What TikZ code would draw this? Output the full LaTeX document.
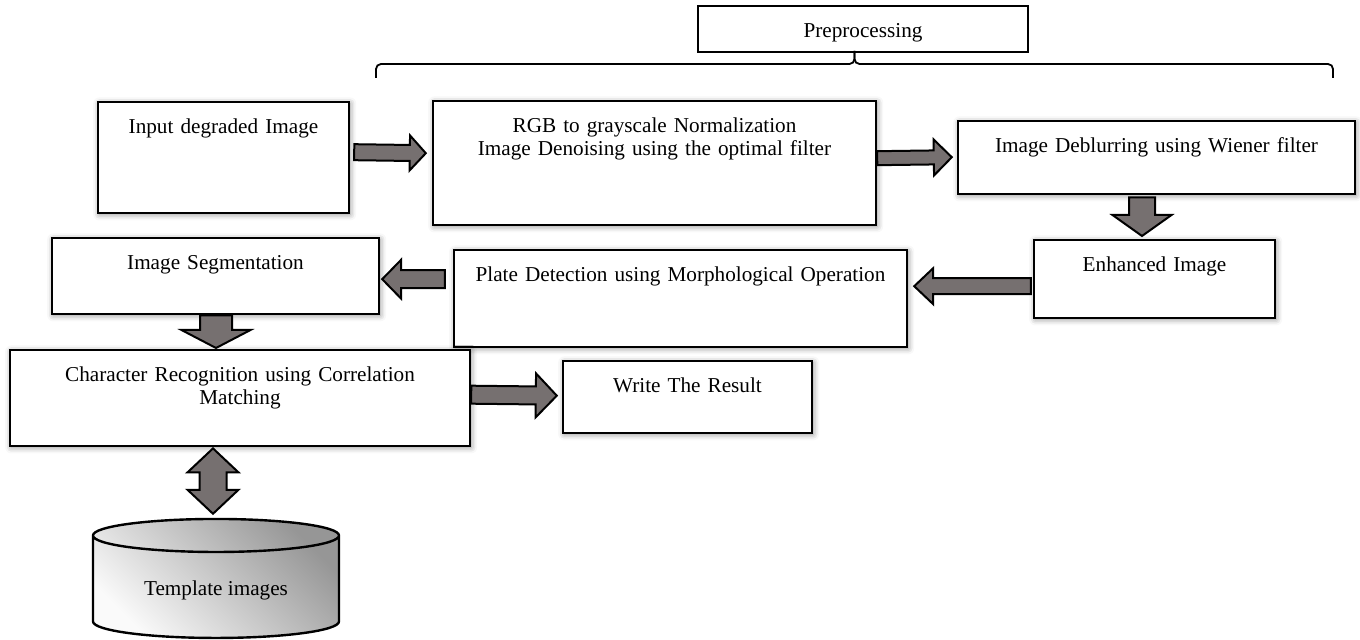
\documentclass[tikz,border=0pt]{standalone}
\usepackage{fontspec}
\setmainfont{Liberation Serif}
\usetikzlibrary{calc,shapes.geometric,shadows.blur}
\definecolor{arrowgray}{RGB}{118,112,112}
\definecolor{cyldark}{RGB}{150,150,150}
\definecolor{cyllight}{RGB}{250,250,250}

\tikzset{
  shaft width/.store in=\shaftw,
  head width/.store in=\headw,
  head length/.store in=\headl,
  box/.style={draw, line width=1.2pt, fill=white, anchor=north, align=center,
    inner xsep=0pt, inner ysep=4pt, text height=11.75pt,
    font=\fontsize{10.6pt}{11.5pt}\selectfont},
  shadowed/.style={blur shadow={shadow xshift=0.6pt, shadow yshift=-0.6pt,
    shadow blur radius=3pt, shadow opacity=45}},
  bracket/.style={line width=0.9pt, rounded corners=2.5pt},
  fatarrow/.style={draw=black, line width=1pt, fill=arrowgray,
    to path={
      ($(\tikztostart)!\shaftw!90:(\tikztotarget)$)
      -- ($($(\tikztotarget)!\headl!(\tikztostart)$)!\shaftw!-90:(\tikztostart)$)
      -- ($($(\tikztotarget)!\headl!(\tikztostart)$)!\headw!-90:(\tikztostart)$)
      -- (\tikztotarget)
      -- ($($(\tikztotarget)!\headl!(\tikztostart)$)!\headw!90:(\tikztostart)$)
      -- ($($(\tikztotarget)!\headl!(\tikztostart)$)!\shaftw!90:(\tikztostart)$)
      -- ($(\tikztostart)!\shaftw!-90:(\tikztotarget)$)
      -- cycle}},
  dblarrow/.style={draw=black, line width=1pt, fill=arrowgray,
    to path={
      (\tikztostart)
      -- ($($(\tikztostart)!\headl!(\tikztotarget)$)!\headw!90:(\tikztotarget)$)
      -- ($($(\tikztostart)!\headl!(\tikztotarget)$)!\shaftw!90:(\tikztotarget)$)
      -- ($($(\tikztotarget)!\headl!(\tikztostart)$)!\shaftw!-90:(\tikztostart)$)
      -- ($($(\tikztotarget)!\headl!(\tikztostart)$)!\headw!-90:(\tikztostart)$)
      -- (\tikztotarget)
      -- ($($(\tikztotarget)!\headl!(\tikztostart)$)!\headw!90:(\tikztostart)$)
      -- ($($(\tikztotarget)!\headl!(\tikztostart)$)!\shaftw!90:(\tikztostart)$)
      -- ($($(\tikztostart)!\headl!(\tikztotarget)$)!\shaftw!-90:(\tikztotarget)$)
      -- ($($(\tikztostart)!\headl!(\tikztotarget)$)!\headw!-90:(\tikztotarget)$)
      -- cycle}},
}

\begin{document}
\begin{tikzpicture}[x=0.5pt,y=-0.5pt]
  \useasboundingbox (0,0) rectangle (1360,640);

  \node[box, text width=165pt, text depth=3.25pt] (prep) at (863,5) {Preprocessing};
  \coordinate (brl) at (376,78);
  \coordinate (brr) at (1333,78);
  \coordinate (brmid) at (854.5,64);
  \coordinate (brtip) at (854.5,51);
  \draw[bracket] (brl) |- (brmid) -- (brtip);
  \draw[bracket] (brr) |- (brmid) -- (brtip);

  \node[box, shadowed, text width=125.5pt, text depth=35.75pt] (input) at (223.5,101) {Input degraded Image};
  \node[box, shadowed, text width=221.5pt, text depth=42.25pt] (gray) at (654.5,100)
    {RGB to grayscale Normalization\\Image Denoising using the optimal filter};
  \node[box, shadowed, text width=198.5pt, text depth=16.75pt] (deblur) at (1156.5,120) {Image Deblurring using Wiener filter};
  \node[box, shadowed, text width=120.5pt, text depth=19.25pt] (enhanced) at (1154.5,239) {Enhanced Image};
  \node[box, shadowed, text width=226.5pt, text depth=28.75pt] (plate) at (680.5,249) {Plate Detection using Morphological Operation};
  \node[box, shadowed, text width=163.5pt, text depth=18.25pt] (segment) at (215.5,237) {Image Segmentation};
  \node[box, shadowed, text width=230pt, text depth=28.25pt] (charrec) at (240,349)
    {Character Recognition using Correlation\\Matching};
  \node[box, shadowed, text width=124.5pt, text depth=16.25pt] (result) at (687.5,360) {Write The Result};

  \node[draw, line width=1.2pt, cylinder, shape border rotate=90, aspect=0.21,
    minimum width=123pt, minimum height=59.5pt,
    top color=cyldark, bottom color=cyllight, shading angle=-45,
    font=\fontsize{10.6pt}{11.5pt}\selectfont] (templates) at (216,590) {Template images};

  \draw[fatarrow, shaft width=4pt, head width=8.75pt, head length=8pt]
    ([xshift=2pt,yshift=2.75pt]input.east) to ([xshift=-3pt,yshift=5pt]gray.west);
  \draw[fatarrow, shaft width=3.5pt, head width=9pt, head length=9pt]
    ([yshift=2.5pt]gray.east) to ([xshift=-2.5pt,yshift=0.25pt]deblur.west);
  \draw[fatarrow, shaft width=6.5pt, head width=14.75pt, head length=10.5pt]
    ([xshift=-7.25pt,yshift=-1pt]deblur.south) to ([xshift=-6.25pt,yshift=1.5pt]enhanced.north);
  \draw[fatarrow, shaft width=4pt, head width=9pt, head length=9.5pt]
    ([xshift=-1pt,yshift=-3.5pt]enhanced.west) to ([xshift=3pt,yshift=6.25pt]plate.east);
  \draw[fatarrow, shaft width=4.5pt, head width=9.75pt, head length=9.5pt]
    ([xshift=-4pt,yshift=9.75pt]plate.west) to ([xshift=1pt,yshift=-1.5pt]segment.east);
  \draw[fatarrow, shaft width=8pt, head width=17.25pt, head length=9pt]
    ([xshift=0.25pt]segment.south) to ([xshift=-12pt,yshift=0.5pt]charrec.north);
  \draw[fatarrow, shaft width=4.5pt, head width=11pt, head length=10.5pt]
    ([yshift=1.75pt]charrec.east) to ([xshift=-2.5pt,yshift=0.75pt]result.west);
  \draw[dblarrow, shaft width=6.75pt, head width=12.75pt, head length=12pt]
    ([xshift=-13.5pt,yshift=-0.5pt]charrec.south) to ([xshift=-1.5pt,yshift=2pt]templates.north);
\end{tikzpicture}
\end{document}
